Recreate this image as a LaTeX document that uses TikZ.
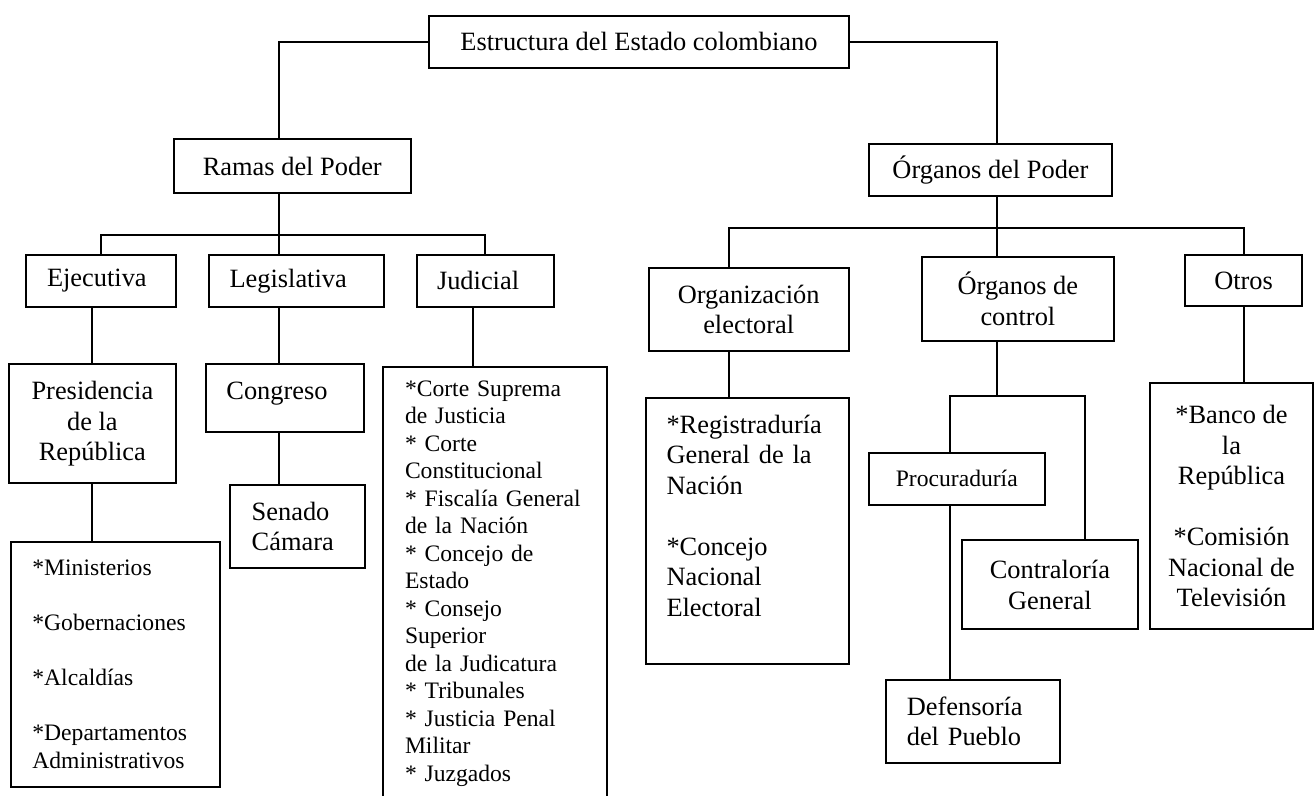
\documentclass[tikz,border=0pt]{standalone}
\usepackage{fontspec}
\setmainfont{Liberation Serif}
\usetikzlibrary{chains,positioning}

\newcommand{\mainsize}{\fontsize{13.2pt}{15.25pt}\selectfont}
\newcommand{\listsize}{\fontsize{11.8pt}{13.75pt}\selectfont}

\begin{document}
\begin{tikzpicture}[x=0.5pt,y=-0.5pt]
        \tikzstyle{every path}=[line width=1pt]

        \edef\rowh{26pt}
        \tikzstyle{box}=[draw,inner sep=0pt,font=\mainsize,align=center]
        \tikzstyle{list}=[box,font=\listsize,align=left]

        \useasboundingbox (0,0) rectangle (1314,796);

        \node [box,minimum width=210pt,minimum height=\rowh] (estado) at (639,41.7) {Estructura del Estado colombiano};
        \node [box,minimum width=118.5pt,minimum height=27pt] (ramas) at (292.3,166) {Ramas del Poder};
        \node [box,minimum width=121.5pt,minimum height=\rowh] (organos) at (990.5,170) {Órganos del Poder};

        % ramas del poder
        \begin{scope}[start chain=row going right,node distance=15.5pt]
        \node [on chain=row,box,align=left,minimum width=74.75pt,minimum height=\rowh,text width=53.75pt] (ejec) at (100.75,280.7) {Ejecutiva};
        \node [on chain=row,box,align=left,minimum width=87.5pt,minimum height=\rowh,text width=66.5pt] (legis) {Legislativa};
        \node [on chain=row,box,align=left,minimum width=68.5pt,minimum height=\rowh,text width=48pt] (judic) {Judicial};
        \end{scope}

        \node [box,minimum width=83.1pt,minimum height=59.65pt] (pres) at (92.4,423.7) {Presidencia\\de la\\República};
        \node [list,minimum width=104.3pt,minimum height=122.5pt,text width=83.3pt] (minis) at (115.7,664.2) {*Ministerios\\[13.75pt]{*}Gobernaciones\\[13.75pt]{*}Alcaldías\\[13.75pt]{*}Departamentos\\Administrativos};
        \node [box,align=left,minimum width=78.95pt,minimum height=34pt,text width=58.35pt,text height=17.9pt,text depth=16.1pt] (congreso) at (284.75,398) {Congreso};
        \node [box,align=left,minimum width=67.65pt,minimum height=41.65pt,text width=45.95pt] (senado) at (297.65,526.65) {Senado\\Cámara};
        \node [list,minimum width=111.8pt,minimum height=216.35pt,text width=90.2pt] (jlist) at (495.2,583.65) {*Corte Suprema\\de Justicia\\{*} Corte\\Constitucional\\{*} Fiscalía General\\de la Nación\\{*} Concejo de\\Estado\\{*} Consejo\\Superior\\de la Judicatura\\{*} Tribunales\\{*} Justicia Penal\\Militar\\{*} Juzgados};

        % organos del poder
        \node [box,minimum width=100.1pt,minimum height=41.35pt] (organiz) at (748.7,309.65) {Organización\\electoral};
        \node [box,minimum width=95.6pt,minimum height=41.7pt] (control) at (1017.9,299) {Órganos de\\control};
        \node [box,minimum width=58.4pt,minimum height=25.5pt] (otros) at (1243.6,280.5) {Otros};
        \node [box,align=left,minimum width=101.65pt,minimum height=133.3pt,text width=81.15pt] (regis) at (747.65,531) {*Registraduría\\General de la\\Nación\\[15.25pt]{*}Concejo\\Nacional\\Electoral\\ \mbox{}};
        \node [list,align=center,minimum width=88.1pt,minimum height=26.15pt] (procu) at (956.8,478.85) {Procuraduría};
        \node [box,minimum width=87.9pt,minimum height=44.75pt] (contra) at (1049.9,584.75) {Contraloría\\General};
        \node [box,align=left,minimum width=87pt,minimum height=41.35pt,text width=66.6pt] (defen) at (973.4,721.35) {Defensoría\\del Pueblo};
        \node [box,minimum width=81.5pt,minimum height=123.4pt] (banco) at (1231.5,506.1) {*Banco de\\la\\República\\[15.25pt]{*}Comisión\\Nacional de\\Televisión};

        %rails for the connectors
        \foreach \n/\x in {railA/278.6,railJ/473,railO/729.4,railP/949.7,railB/997,railC/1084.7} {
            \coordinate (\n) at (\x,0);
        };
        \coordinate (busL) at (278.6,235);
        \coordinate (busR) at (997,228.3);
        \coordinate (split) at (997,396);

        \draw (estado.west) -| (railA |- ramas.north);
        \draw (estado.east) -| (railB |- organos.north);
        \draw (railA |- ramas.south) -- (railA |- legis.north);
        \draw (ejec.north) |- (busL) -| (judic.north);
        \draw (railB |- organos.south) -- (railB |- control.north);
        \draw (railO |- organiz.north) |- (busR) -| (otros.north);
        \draw (pres.north) -- (pres.north |- ejec.south);
        \draw (pres.south) -- (pres.south |- minis.north);
        \draw (railA |- legis.south) -- (railA |- congreso.north);
        \draw (railA |- congreso.south) -- (railA |- senado.north);
        \draw (railJ |- judic.south) -- (railJ |- jlist.north);
        \draw (railO |- organiz.south) -- (railO |- regis.north);
        \draw (railB |- control.south) -- (split);
        \draw (railP |- procu.north) |- (split) -| (railC |- contra.north);
        \draw (railP |- procu.south) -- (railP |- defen.north);
        \draw (otros.south) -- (otros.south |- banco.north);
\end{tikzpicture}
\end{document}
